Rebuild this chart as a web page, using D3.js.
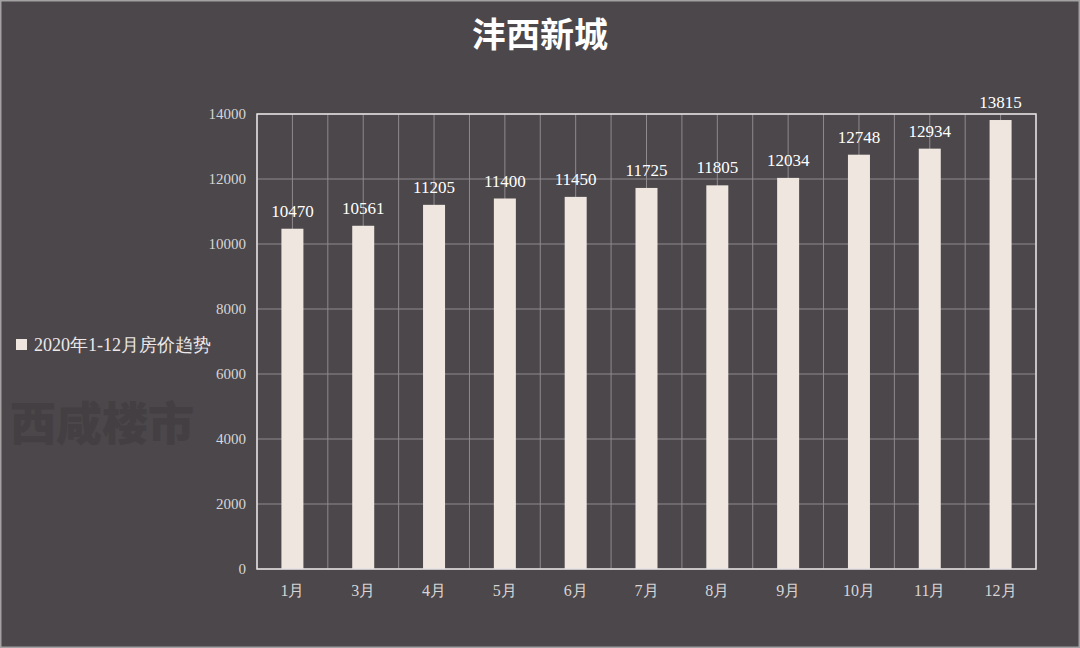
<!DOCTYPE html>
<html><head><meta charset="utf-8">
<script src="https://cdn.jsdelivr.net/npm/d3@7"></script>
<style>
html,body{margin:0;padding:0;background:#4b474a;}
svg{display:block;}
</style></head>
<body>
<svg id="c" width="1080" height="648"></svg>
<script>
const title = "沣西新城";
const seriesName = "2020年1-12月房价趋势";
const categories = ["1月","3月","4月","5月","6月","7月","8月","9月","10月","11月","12月"];
const values = [10470,10561,11205,11400,11450,11725,11805,12034,12748,12934,13815];
const yTicks = [0,2000,4000,6000,8000,10000,12000,14000];
const watermark = "西咸楼市";

const svg = d3.select("#c");
const W = 1080, H = 648;
const m = {left:257, right:1036, top:114, bottom:569};

svg.append("rect").attr("x",0).attr("y",0).attr("width",W).attr("height",H).attr("fill","#4b474a");
svg.append("rect").attr("x",0.75).attr("y",0.75).attr("width",W-1.5).attr("height",H-1.5)
  .attr("fill","none").attr("stroke","#a3a1a2").attr("stroke-width",1.5);

// watermark (faint)
svg.append("text").attr("x",10).attr("y",440).text(watermark)
  .attr("font-family","'Noto Sans CJK SC'").attr("font-weight",900).attr("font-size",46)
  .attr("fill","#3e3a3d").attr("opacity",0.6);

const x = d3.scaleBand().domain(categories).range([m.left,m.right]).paddingInner(0).paddingOuter(0);
const y = d3.scaleLinear().domain([0,14000]).range([m.bottom,m.top]);

const g = svg.append("g");
g.selectAll("line.h").data(yTicks).join("line")
  .attr("x1",m.left).attr("x2",m.right).attr("y1",d=>y(d)).attr("y2",d=>y(d))
  .attr("stroke","#8f8a8d").attr("stroke-width",1);
const vlines = [];
categories.forEach((c)=>{ vlines.push(x(c)); vlines.push(x(c)+x.bandwidth()/2); });
vlines.push(m.right);
g.selectAll("line.v").data(vlines).join("line")
  .attr("x1",d=>d).attr("x2",d=>d).attr("y1",m.top).attr("y2",m.bottom)
  .attr("stroke","#8f8a8d").attr("stroke-width",1);

const bw = 22;
g.selectAll("rect.bar").data(values).join("rect")
  .attr("x",(d,i)=>x(categories[i])+x.bandwidth()/2-bw/2)
  .attr("y",d=>y(d)).attr("width",bw).attr("height",d=>y(0)-y(d))
  .attr("fill","#efe6e0");

svg.append("rect").attr("x",m.left).attr("y",m.top).attr("width",m.right-m.left).attr("height",m.bottom-m.top)
  .attr("fill","none").attr("stroke","#e6e2e3").attr("stroke-width",1.5);

const font = "'Liberation Serif','DejaVu Serif',serif";
g.selectAll("text.val").data(values).join("text")
  .attr("x",(d,i)=>x(categories[i])+x.bandwidth()/2).attr("y",d=>y(d)-12)
  .attr("text-anchor","middle").attr("font-family",font).attr("font-size",17)
  .attr("fill","#ffffff").text(d=>d);

const yAxis = d3.axisLeft(y).tickValues(yTicks).tickFormat(d3.format("d")).tickSize(0).tickPadding(11);
const ya = svg.append("g").attr("transform",`translate(${m.left},0)`).call(yAxis);
ya.select(".domain").remove();
ya.selectAll("text").attr("font-family",font).attr("font-size",15).attr("fill","#d8d5d6");

const xAxis = d3.axisBottom(x).tickSize(0).tickPadding(16);
const xa = svg.append("g").attr("transform",`translate(0,${m.bottom})`).call(xAxis);
xa.select(".domain").remove();
xa.selectAll("text").attr("font-family",font).attr("font-size",16).attr("fill","#d8d5d6");

svg.append("text").attr("x",540).attr("y",47).attr("text-anchor","middle")
  .attr("font-family","'Noto Sans CJK SC'").attr("font-weight",700).attr("font-size",34)
  .attr("fill","#ffffff").text(title);

svg.append("rect").attr("x",16).attr("y",339).attr("width",11).attr("height",11).attr("fill","#efe6e0");
svg.append("text").attr("x",34).attr("y",351).attr("font-family",font).attr("font-size",18)
  .attr("fill","#ece8e9").text(seriesName);
</script>
</body></html>
